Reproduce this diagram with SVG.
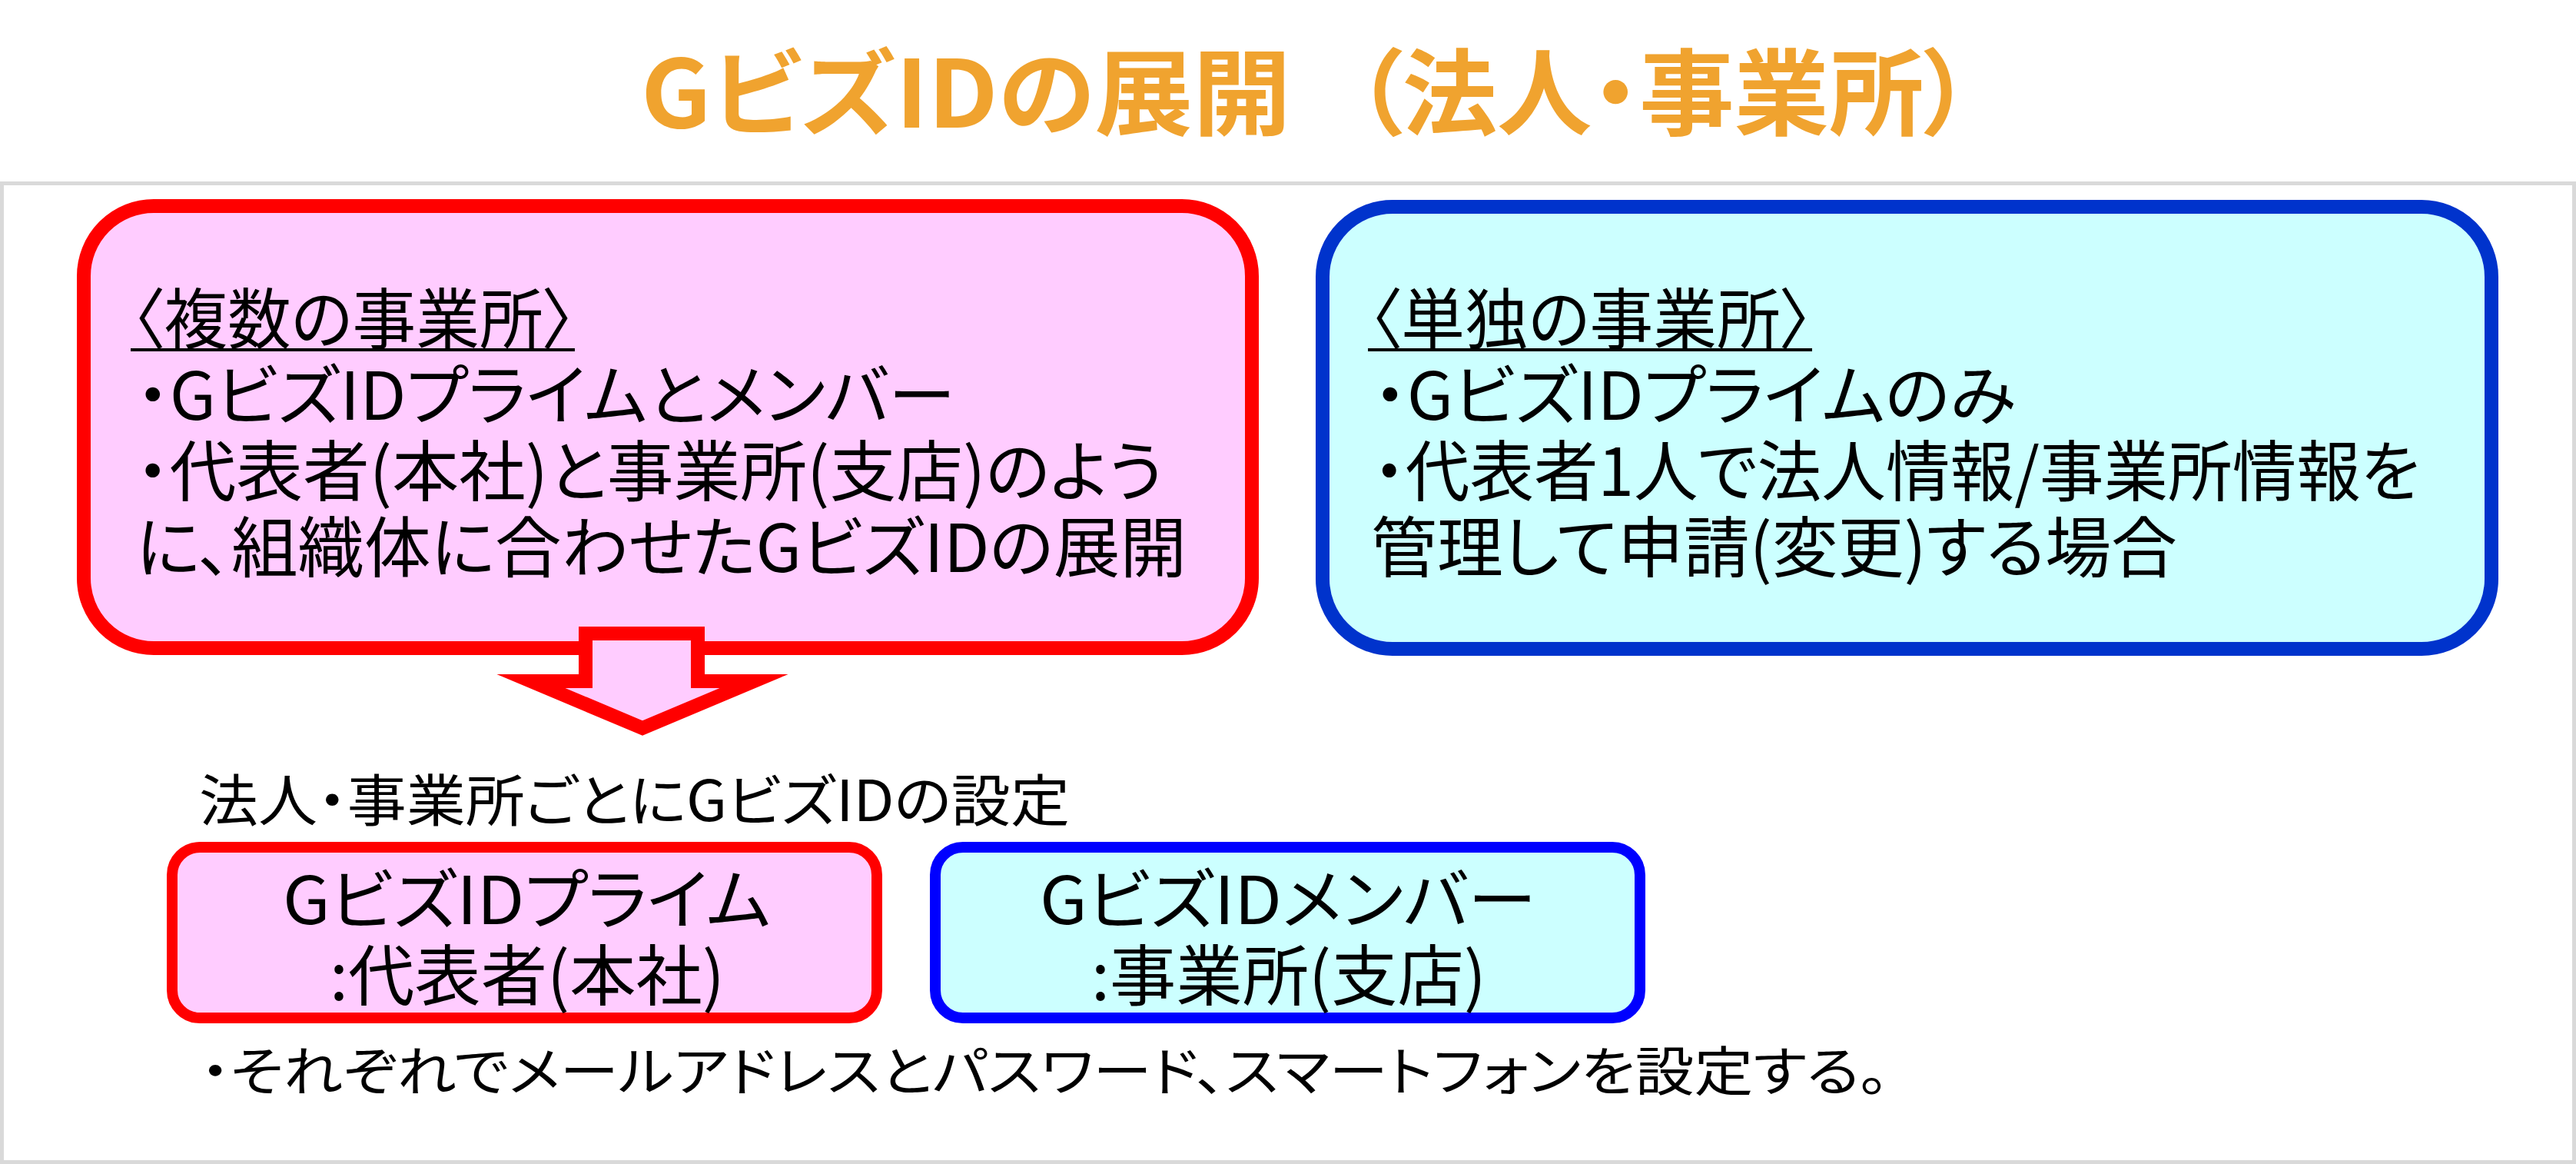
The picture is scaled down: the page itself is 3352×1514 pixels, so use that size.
<svg xmlns="http://www.w3.org/2000/svg" width="3352" height="1514" viewBox="0 0 3352 1514">
<style>
.t{font-family:"Noto Sans CJK JP","Noto Sans",sans-serif;fill:#000;font-feature-settings:"palt";}
.title{font-size:122px;font-weight:bold;fill:#F0A32F;}
.big{font-size:86px;}
.mid{font-size:73px;}
.sm{font-size:69px;}
.redbox{fill:#FFCCFF;stroke:#FF0000;}
.bluebox{fill:#CCFFFF;stroke:#0033CC;}
.bluebox2{fill:#CCFFFF;stroke:#0000FF;}
</style>
<rect x="0" y="0" width="3352" height="1514" fill="#FFFFFF"/>
<rect x="2.5" y="238.5" width="3347" height="1273" fill="none" stroke="#D9D9D9" stroke-width="5"/>

<g id="title">
<text class="t title" x="834" y="166">
<tspan textLength="846" lengthAdjust="spacingAndGlyphs">GビズIDの展開</tspan><tspan x="1763" textLength="802" lengthAdjust="spacingAndGlyphs">（法人・事業所）</tspan>
</text>
</g>

<g id="node-multiple">
<rect class="redbox" x="109" y="268" width="1520" height="575" rx="91" ry="91" stroke-width="18"/>
<text class="t big" x="172" y="447" textLength="576" lengthAdjust="spacingAndGlyphs">〈複数の事業所〉</text>
<line x1="170" y1="455" x2="748" y2="455" stroke="#000" stroke-width="4"/>
<text class="t big" x="177" y="546" textLength="1066" lengthAdjust="spacingAndGlyphs">・GビズIDプライムとメンバー</text>
<text class="t big" x="177" y="645" textLength="1337" lengthAdjust="spacingAndGlyphs">・代表者(本社)と事業所(支店)のよう</text>
<text class="t big" x="177" y="744" textLength="1367" lengthAdjust="spacingAndGlyphs">に、組織体に合わせたGビズIDの展開</text>
</g>

<g id="node-single">
<rect class="bluebox" x="1721" y="269" width="1521" height="575" rx="91" ry="91" stroke-width="18"/>
<text class="t big" x="1782" y="447" textLength="576" lengthAdjust="spacingAndGlyphs">〈単独の事業所〉</text>
<line x1="1780" y1="455" x2="2358" y2="455" stroke="#000" stroke-width="4"/>
<text class="t big" x="1787" y="546" textLength="836" lengthAdjust="spacingAndGlyphs">・GビズIDプライムのみ</text>
<text class="t big" x="1787" y="645" textLength="1362" lengthAdjust="spacingAndGlyphs">・代表者1人で法人情報/事業所情報を</text>
<text class="t big" x="1784" y="744" textLength="1049" lengthAdjust="spacingAndGlyphs">管理して申請(変更)する場合</text>
</g>

<g id="connectors">
<path class="redbox" d="M762,824 L908,824 L908,886 L981,886 L836,947 L691,886 L762,886 Z" stroke-width="18" stroke-linejoin="miter" stroke-miterlimit="10"/>
</g>

<g id="label-setting">
<text class="t mid" x="259" y="1068" textLength="1133" lengthAdjust="spacingAndGlyphs">法人・事業所ごとにGビズIDの設定</text>
</g>

<g id="node-prime">
<rect class="redbox" x="224" y="1102" width="917" height="222" rx="36" ry="36" stroke-width="14"/>
<text class="t big" x="368" y="1202" textLength="635" lengthAdjust="spacingAndGlyphs">GビズIDプライム</text>
<text class="t big" x="429" y="1301" textLength="514" lengthAdjust="spacingAndGlyphs">:代表者(本社)</text>
</g>

<g id="node-member">
<rect class="bluebox2" x="1217" y="1102" width="917" height="222" rx="36" ry="36" stroke-width="14"/>
<text class="t big" x="1353" y="1202" textLength="646" lengthAdjust="spacingAndGlyphs">GビズIDメンバー</text>
<text class="t big" x="1420" y="1301" textLength="514" lengthAdjust="spacingAndGlyphs">:事業所(支店)</text>
</g>

<g id="note">
<text class="t sm" x="261" y="1419" textLength="2197" lengthAdjust="spacingAndGlyphs">・それぞれでメールアドレスとパスワード、スマートフォンを設定する。</text>
</g>
</svg>
